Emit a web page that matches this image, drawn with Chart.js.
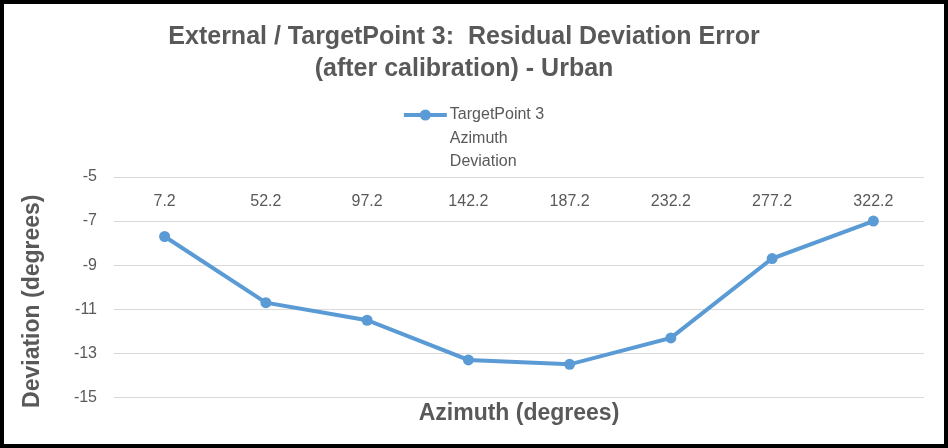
<!DOCTYPE html>
<html>
<head>
<meta charset="utf-8">
<script src="https://cdn.jsdelivr.net/npm/chart.js@4"></script>
<style>
  html, body { margin: 0; padding: 0; background: #fff; }
  #frame { width: 948px; height: 448px; box-sizing: border-box; border: 4px solid #000; }
  #wrap { position: relative; width: 940px; height: 440px; }
</style>
</head>
<body>
<div id="frame"><div id="wrap"><canvas id="devChart"></canvas></div></div>
<script>
'use strict';

// Data
const azimuthLabels = ['7.2', '52.2', '97.2', '142.2', '187.2', '232.2', '277.2', '322.2'];
const deviationValues = [-7.7, -10.7, -11.5, -13.3, -13.5, -12.3, -8.7, -7.0];
const seriesLabel = ['TargetPoint 3', 'Azimuth', 'Deviation'];
const chartTitle = ['External / TargetPoint 3:  Residual Deviation Error', '(after calibration) - Urban'];
const xTitle = 'Azimuth (degrees)';
const yTitle = 'Deviation (degrees)';
const yMin = -15;
const yMax = -5;
const yStep = 2;

const FONT = '"Liberation Sans", Arial, sans-serif';
const GREY = '#595959';
const BLUE = '#5b9bd5';

// Legend with a multi-line label (the built-in one can't stack lines),
// plus the y title, which sits a bit below the plot centre in the original
const extras = {
  id: 'extras',
  afterDraw(chart) {
    const ds = chart.data.datasets[0];
    const ctx = chart.ctx;
    const lines = ds.label;
    ctx.save();
    ctx.font = '16px ' + FONT;
    const textW = Math.max(...lines.map(t => ctx.measureText(t).width));
    const lineLen = 43, gap = 3, rowH = 23.5;
    const x0 = chart.width / 2 - (lineLen + gap + textW) / 2;
    const y0 = 111;
    ctx.strokeStyle = ds.borderColor;
    ctx.lineWidth = ds.borderWidth;
    ctx.beginPath();
    ctx.moveTo(x0, y0);
    ctx.lineTo(x0 + lineLen, y0);
    ctx.stroke();
    ctx.fillStyle = ds.pointBackgroundColor;
    ctx.beginPath();
    ctx.arc(x0 + lineLen / 2, y0, ds.pointRadius, 0, Math.PI * 2);
    ctx.fill();
    ctx.fillStyle = GREY;
    ctx.textBaseline = 'middle';
    ctx.textAlign = 'left';
    lines.forEach((t, i) => ctx.fillText(t, x0 + lineLen + gap, y0 + i * rowH));

    // y axis title
    const area = chart.chartArea;
    ctx.font = 'bold 23px ' + FONT;
    ctx.textAlign = 'center';
    ctx.translate(29, (area.top + area.bottom) / 2 + 14);
    ctx.rotate(-Math.PI / 2);
    ctx.fillText(yTitle, 0, 0);
    ctx.restore();
  }
};

const ctx = document.getElementById('devChart').getContext('2d');
new Chart(ctx, {
  type: 'line',
  data: {
    labels: azimuthLabels,
    datasets: [{
      label: seriesLabel,
      data: deviationValues,
      xAxisID: 'x',
      borderColor: BLUE,
      backgroundColor: BLUE,
      pointBackgroundColor: BLUE,
      pointBorderColor: BLUE,
      borderWidth: 4,
      pointRadius: 5.5,
      pointBorderWidth: 0,
      tension: 0,
      fill: false
    }]
  },
  options: {
    responsive: true,
    maintainAspectRatio: false,
    animation: false,
    layout: { padding: { top: 0, left: 0, right: 20, bottom: 17 } },
    plugins: {
      legend: { display: false },
      tooltip: { enabled: false },
      title: {
        display: true,
        text: chartTitle,
        color: GREY,
        font: { family: FONT, size: 25, weight: 'bold', lineHeight: 1.28 },
        padding: { top: 17, bottom: 66 }
      }
    },
    scales: {
      x: {
        type: 'category',
        position: 'top',
        offset: true,
        grid: { display: false, drawTicks: false },
        border: { display: false },
        ticks: {
          mirror: true,
          padding: 15,
          color: GREY,
          maxRotation: 0,
          autoSkip: false,
          font: { family: FONT, size: 16 }
        },
        afterFit(scale) { scale.height = 26; }
      },
      x2: {
        type: 'category',
        axis: 'x',
        position: 'bottom',
        offset: true,
        grid: { display: false, drawTicks: false },
        border: { display: false },
        ticks: { display: false },
        title: {
          display: true,
          text: xTitle,
          color: GREY,
          font: { family: FONT, size: 23, weight: 'bold', lineHeight: 1.2 },
          padding: { top: 2, bottom: 0 }
        }
      },
      y: {
        min: yMin,
        max: yMax,
        grid: { color: '#d9d9d9', lineWidth: 1, drawTicks: false },
        border: { display: false },
        ticks: {
          stepSize: yStep,
          padding: 17,
          color: GREY,
          font: { family: FONT, size: 16 }
        },
        title: { display: false },
        afterFit(scale) { scale.width = 110; }
      }
    }
  },
  plugins: [extras]
});
</script>
</body>
</html>
